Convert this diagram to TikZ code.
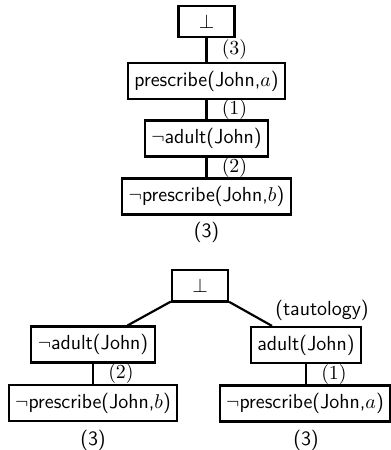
\documentclass[tikz,border=0pt]{standalone}
\begin{document}
\begin{tikzpicture}[x=0.55pt,y=-0.55pt,
  txt/.style={font=\sffamily\fontsize{11.2}{13.4}\selectfont},
  box/.style={txt, draw, line width=1.2pt, minimum height=19.8pt, inner xsep=3.6pt, inner ysep=0pt},
  botbox/.style={box, minimum width=30.8pt, minimum height=17.5pt},
  link/.style={line width=1.2pt},
  elabel/.style={txt, anchor=west, inner sep=0pt, xshift=7.8pt},
  note/.style={txt, inner sep=0pt}]
\useasboundingbox (0,0) rectangle (391,450);

% first refutation: a single chain
\node[botbox, minimum height=17pt] (t0) at (206.5,21.5) {$\bot$};
\node[box] (t1) at (206.5,81) {prescribe(John,$a$)};
\node[box] (t2) at (206.5,138.5) {$\neg$adult(John)};
\node[box] (t3) at (206.5,196.5) {$\neg$prescribe(John,$b$)};
\node[note] (t4) at (206.5,232) {(3)};
\draw[link] (t0) -- node[elabel] {$(3)$} (t1);
\draw[link] (t1) -- node[elabel] {$(1)$} (t2);
\draw[link] (t2) -- node[elabel] {$(2)$} (t3);

% second refutation: two branches
\node[botbox] (b0) at (200,285.5) {$\bot$};
\node[box] (l1) at (93,344.5) {$\neg$adult(John)};
\node[box] (l2) at (93,403) {$\neg$prescribe(John,$b$)};
\node[note] (l3) at (93,440) {(3)};
\node[box] (r1) at (306,345) {adult(John)};
\node[box] (r2) at (305,403.5) {$\neg$prescribe(John,$a$)};
\node[note] (r3) at (306,440) {(3)};
\node[note] (taut) at (322,310) {(tautology)};
\draw[link] (b0) -- (l1);
\draw[link] (b0) -- (r1);
\draw[link] (l1) -- node[elabel] {$(2)$} (l2);
\draw[link] (r1.south) -- node[elabel] {$(1)$} (r1.south |- r2.north);
\end{tikzpicture}
\end{document}
